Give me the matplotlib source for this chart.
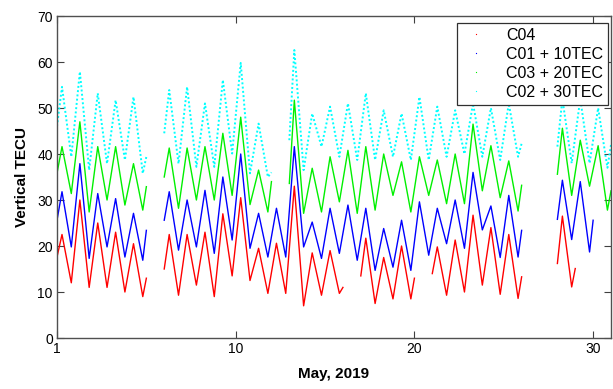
import numpy as np
import matplotlib
matplotlib.use("Agg")
import matplotlib.pyplot as plt
from matplotlib.lines import Line2D

plt.rcParams['font.family'] = ['Liberation Sans', 'DejaVu Sans']

# Day index (0 = May 1) -- values read per day: rising value at start of day,
# daily maximum and daily minimum (None = no data)
days = list(range(32))
tick_pos = [0, 10, 20, 30]
tick_labels = ['1', '10', '20', '30']
series_names = ['C04', 'C01 + 10TEC', 'C03 + 20TEC', 'C02 + 30TEC']

N = None
c04_rise = [17.6, N, N, N, N, 13.0, 15.0, N, N, N, N, N, N, N, N, N,
            11.0, 13.5, N, N, 13.0, 14.0, N, N, N, N, 13.3, N, 16.2, 15.1, N, N]
c04_peak = [22.5, 30.0, 25.0, 23.0, 20.5, N, 22.5, 22.5, 23.0, 27.0, 30.5, 19.5,
            20.6, 33.0, 18.5, 19.0, N, 21.7, 17.5, 20.0, N, 19.8, 21.3, 26.7,
            24.0, 22.5, N, N, 26.5, N, N, N]
c04_trough = [12.0, 11.0, 11.0, 10.0, 9.0, N, 9.3, 11.5, 9.0, 13.5, 12.5, 9.7,
              9.7, 7.0, 9.3, 9.7, N, 7.5, 8.5, 8.5, N, 9.3, 10.0, 11.5,
              9.5, 8.6, N, N, 11.1, N, N, N]

c01_rise = [25.6, N, N, N, N, 23.4, 25.6, N, N, N, N, N, N, N, N, N,
            N, N, N, N, N, N, N, N, N, N, 23.4, N, 25.8, N, 25.6, N]
c01_peak = [31.8, 37.9, 31.4, 30.3, 27.1, N, 31.8, 30.0, 32.1, 35.0, 40.0, 27.1,
            28.2, 41.6, 25.2, 28.2, 28.9, 28.2, 23.8, 25.6, 29.6, 28.2, 30.0, 36.0,
            28.7, 31.0, N, N, 34.3, 34.0, N, N]
c01_trough = [19.8, 17.3, 19.8, 17.6, 16.9, N, 19.1, 19.8, 18.4, 21.3, 19.5, 17.6,
              17.6, 19.8, 17.3, 18.4, 16.9, 14.7, 15.4, 14.7, 18.0, 20.5, 19.5, 23.5,
              17.5, 17.6, N, N, 21.4, 18.7, N, N]

c03_rise = [35.8, N, N, N, N, 32.9, 35.0, N, N, N, N, N, 34.0, 33.6, N, N,
            N, N, N, N, N, N, N, N, N, N, 33.2, N, 35.6, N, N, 32.0]
c03_peak = [41.6, 47.0, 41.6, 41.6, 37.9, N, 41.3, 41.3, 41.6, 44.5, 48.0, 36.5,
            N, 51.7, 36.9, 39.4, 40.8, 41.6, 40.0, 38.3, 39.4, 38.7, 40.0, 46.5,
            41.8, 38.5, N, N, 45.6, 43.0, 41.8, N]
c03_trough = [31.4, 27.4, 30.0, 28.9, 27.8, N, 28.2, 30.0, 30.0, 31.0, 29.0, 27.4,
              N, 27.1, 27.4, 29.6, 27.1, 27.8, 31.0, 27.4, 31.0, 29.2, 29.2, 32.0,
              30.5, 27.6, N, N, 31.0, 33.0, 27.8, N]

c02_rise = [46.0, N, N, N, N, 39.4, 44.5, N, N, N, N, N, 36.0, 43.0, N, N,
            N, N, N, N, N, N, N, N, N, N, 42.3, N, 41.6, N, N, 42.0]
c02_peak = [54.6, 57.9, 53.2, 51.7, 52.4, N, 53.9, 54.6, 51.0, 56.1, 59.8, 46.6,
            N, 62.6, 48.8, 50.3, 51.0, 53.2, 49.5, 48.8, 52.4, 50.3, 49.5, 51.0,
            50.0, 51.0, N, N, 52.0, 52.0, 50.0, N]
c02_trough = [39.4, 36.5, 37.9, 38.7, 35.8, N, 37.9, 37.2, 37.2, 40.1, 35.8, 35.0,
              N, 36.5, 41.6, 39.4, 38.7, 38.7, 39.4, 38.7, 38.7, 39.4, 40.0, 39.4,
              38.7, 39.4, N, N, 38.0, 38.0, 37.0, N]

PEAK_PHASE = 0.28
TROUGH_PHASE = 0.8


def build(rise, peak, trough):
    t, v = [], []
    for d, r, p, q in zip(days, rise, peak, trough):
        if r is not None:
            t.append(d); v.append(r)
        for ph, val in ((PEAK_PHASE, p), (TROUGH_PHASE, q)):
            if val is None:
                if v and not np.isnan(v[-1]):
                    t.append(d + ph); v.append(np.nan)
            else:
                t.append(d + ph); v.append(val)
    return np.array(t), np.array(v, dtype=float)


fig = plt.figure(figsize=(6.13, 3.89), dpi=100)
ax = fig.add_axes([57 / 613, 51 / 389, 554 / 613, 322 / 389])

specs = [
    (c04_rise, c04_peak, c04_trough, '#ff0000', '-', 1.0),
    (c01_rise, c01_peak, c01_trough, '#0000ff', '-', 1.0),
    (c03_rise, c03_peak, c03_trough, '#00f000', '-', 1.0),
    (c02_rise, c02_peak, c02_trough, '#00ffff', (0, (1, 1.2)), 1.4),
]
handles = []
for (r, p, q, col, ls, lw), name in zip(specs, series_names):
    t, v = build(r, p, q)
    ax.plot(t, v, color=col, linestyle=ls, linewidth=lw, solid_joinstyle='round')
    handles.append(Line2D([], [], color=col, marker='s', markersize=0.8,
                          markeredgewidth=0, linestyle='none', label=name))

ax.set_xlim(0, 31)
ax.set_ylim(0, 70)
ax.set_xticks(tick_pos)
ax.set_xticklabels(tick_labels)
ax.set_yticks(np.arange(0, 71, 10))
ax.tick_params(direction='in', length=5, width=0.8, top=True, right=True,
               labelsize=10, colors='#404040', labelcolor='black', pad=3)
for s in ax.spines.values():
    s.set_color('#505050')
    s.set_linewidth(1.0)

ax.set_xlabel('May, 2019', fontsize=11, fontweight='bold', labelpad=8)
ax.set_ylabel('Vertical TECU', fontsize=11, fontweight='bold', labelpad=6)

leg = ax.legend(handles=handles, loc='upper right',
                bbox_to_anchor=((608 - 57) / 554, 1 - 7 / 322),
                borderaxespad=0, fontsize=11.5, fancybox=False, framealpha=1,
                edgecolor='#303030', handlelength=1.8, handletextpad=1.0,
                labelspacing=0.25, borderpad=0.3, markerscale=1)
leg.get_frame().set_linewidth(0.9)

fig.savefig('out.png', dpi=100)
